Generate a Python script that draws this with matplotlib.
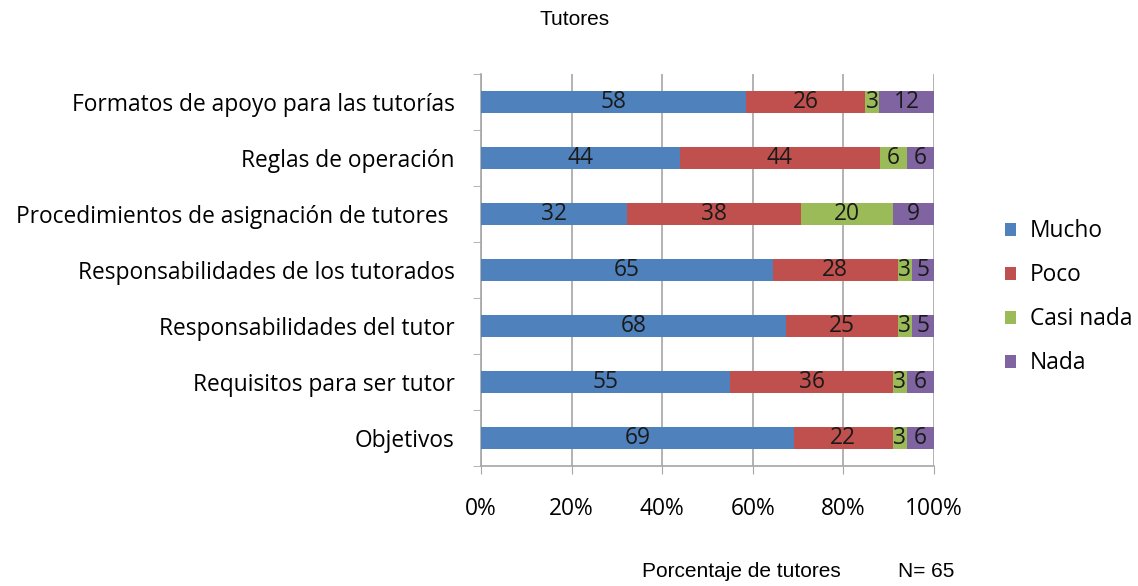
import numpy as np
import matplotlib.pyplot as plt
from matplotlib.ticker import FixedLocator, PercentFormatter

# -------------------------
# Data
# -------------------------
categories = [
    "Formatos de apoyo para las tutorías",
    "Reglas de operación",
    "Procedimientos de asignación de tutores ",
    "Responsabilidades de los tutorados",
    "Responsabilidades del tutor",
    "Requisitos para ser tutor",
    "Objetivos",
]
series_names = ["Mucho", "Poco", "Casi nada", "Nada"]
mucho = [58, 44, 32, 65, 68, 55, 69]
poco = [26, 44, 38, 28, 25, 36, 22]
casi_nada = [3, 6, 20, 3, 3, 3, 3]
nada = [12, 6, 9, 5, 5, 6, 6]
colors = ["#4F81BD", "#C0504D", "#9BBB59", "#8064A2"]

label_font = "Open Sans"
fs = 16.4
grey = "#A6A6A6"

# -------------------------
# Plot (100% stacked bars)
# -------------------------
fig = plt.figure(figsize=(11.38, 5.86), dpi=100)
ax = fig.add_axes([0.4227, 0.2048, 0.398, 0.6689])

vals = np.array([mucho, poco, casi_nada, nada], dtype=float)
totals = vals.sum(axis=0)
pct = vals / totals * 100
y = np.arange(len(categories))

left = np.zeros(len(categories))
for name, p, raw, c in zip(series_names, pct, vals, colors):
    bars = ax.barh(y, p, left=left, height=0.4, color=c, label=name, zorder=3)
    ax.bar_label(bars, labels=[f"{v:.0f}" for v in raw], label_type="center",
                 fontsize=fs, family=label_font, color="#1a1a1a")
    left += p

ax.set_xlim(0, 100)
ax.set_ylim(len(categories) - 0.5, -0.5)
ax.set_yticks(y)
ax.set_yticklabels(categories, family=label_font, fontsize=fs)
ax.yaxis.set_minor_locator(FixedLocator(np.arange(-0.5, len(categories), 1)))
ax.tick_params(axis="y", which="major", length=0, pad=19)
ax.tick_params(axis="y", which="minor", length=6, color=grey, direction="out")

ax.set_xticks(np.arange(0, 101, 20))
ax.xaxis.set_major_formatter(PercentFormatter(decimals=0))
ax.tick_params(axis="x", length=6, color=grey, direction="out", pad=16.5)
for lab in ax.get_xticklabels():
    lab.set_family(label_font)
    lab.set_fontsize(fs)

ax.grid(True, axis="x", color=grey, linewidth=1.2, zorder=0)
for s in ["top", "right"]:
    ax.spines[s].set_visible(False)
for s in ["left", "bottom"]:
    ax.spines[s].set_color(grey)
    ax.spines[s].set_linewidth(1.2)

leg = fig.legend(loc="upper left", bbox_to_anchor=(0.883, 0.626), frameon=False,
                 prop={"family": label_font, "size": fs}, handlelength=0.5,
                 handleheight=0.5, handletextpad=0.6, labelspacing=0.88,
                 borderpad=0, borderaxespad=0)

fig.text(0.505, 0.967, "Tutores", ha="center", va="center",
         family="Liberation Sans", fontsize=15)
fig.text(0.564, 0.024, "Porcentaje de tutores", ha="left", va="center",
         family="Liberation Sans", fontsize=15)
fig.text(0.789, 0.024, "N= 65", ha="left", va="center",
         family="Liberation Sans", fontsize=15)

fig.savefig("out.png", dpi=100)
